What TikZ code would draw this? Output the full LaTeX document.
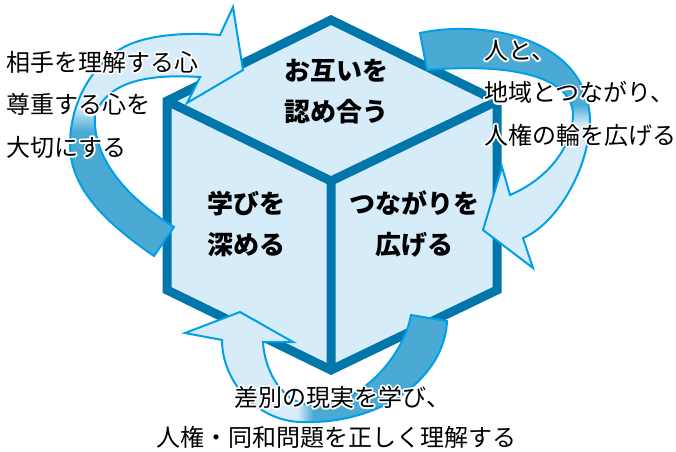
\documentclass[tikz,border=0pt]{standalone}
\usepackage{fontspec}
\newfontfamily\jpfont{Noto Sans CJK JP}
\definecolor{cubeline}{RGB}{0,118,170}
\definecolor{cubeface}{RGB}{214,236,249}
\definecolor{arrline}{RGB}{0,160,233}
\definecolor{arrdark}{RGB}{74,170,212}
\definecolor{arrlight}{RGB}{214,236,249}
\pgfdeclareverticalshading{leftloopshade}{100bp}{color(0bp)=(arrdark); color(50bp)=(arrdark); color(55bp)=(arrlight); color(100bp)=(arrlight)}
\pgfdeclareverticalshading{rightloopshade}{100bp}{color(0bp)=(arrlight); color(54bp)=(arrlight); color(58bp)=(arrdark); color(100bp)=(arrdark)}
\pgfdeclarehorizontalshading{bottomloopshade}{100bp}{color(0bp)=(arrlight); color(46.5bp)=(arrlight); color(49.5bp)=(arrdark); color(100bp)=(arrdark)}
\tikzset{%
  cubeedge/.style = {draw=cubeline, line width=9pt, line join=miter},%
  cubeside/.style = {cubeedge, fill=cubeface},%
  loop/.style     = {draw=arrline, line width=2pt, line join=miter, shade},%
  facetext/.style = {font=\jpfont\bfseries\fontsize{26}{41}\selectfont, align=center},%
  sidetext/.style = {font=\jpfont\fontsize{24}{42.5}\selectfont, align=left},%
  foottext/.style = {font=\jpfont\fontsize{24}{40}\selectfont, align=center}%
}
% white rim (stroked outline) behind text that lies on an arrow
\newcommand\halolabel[4][]{%
  \node[#1, text=white] at (#3)
    {\special{pdf:literal direct 1 j 1 J 3.6 w 1 Tr}#4\special{pdf:literal direct 0 Tr}};
  \node[#1] (#2) at (#3) {#4};}

\begin{document}
\begin{tikzpicture}[x=1pt,y=-1pt,every node/.style={inner sep=0pt,outer sep=0pt}]
\useasboundingbox[fill=white] (0,0) rectangle (676,451);
% cube
\coordinate (top) at (331,20);
\coordinate (ur) at (497,101);
\coordinate (lr) at (497,290);
\coordinate (bot) at (331,370);
\coordinate (ll) at (167,290);
\coordinate (ul) at (167,101);
\coordinate (mid) at (331,181);
\draw[cubeside] (top) -- (ur) -- (lr) -- (bot) -- (ll) -- (ul) -- cycle;
\draw[cubeedge] (ul) -- (mid) -- (ur) (mid) -- (bot);
% left loop
\path[loop, shading=leftloopshade]
  (154,256) .. controls (109,225) and (70,190) .. (70,145)
  .. controls (70,95) and (100,55) .. (133,43)
  .. controls (160,33) and (195,33) .. (220,35)
  -- (233,7) -- (243,70) -- (187,103) -- (200,77)
  .. controls (150,74) and (108,80) .. (95,115)
  .. controls (92,160) and (130,200) .. (174,227) -- cycle;
% right loop
\path[loop, shading=rightloopshade]
  (420,33) .. controls (480,20) and (585,35) .. (590,118)
  .. controls (590,170) and (555,225) .. (523,238)
  -- (533,268) -- (483,230) -- (502,167) -- (510,195)
  .. controls (545,180) and (572,150) .. (573,115)
  .. controls (573,80) and (520,62) .. (427,70) -- cycle;
% bottom loop
\path[loop, shading=bottomloopshade]
  (447,321) .. controls (445,375) and (385,425) .. (300,422)
  .. controls (255,420) and (222,380) .. (222,340)
  -- (185,333) -- (240,312) -- (293,342) -- (263,342)
  .. controls (265,375) and (285,403) .. (310,405)
  .. controls (360,408) and (404,355) .. (411,315) -- cycle;
% labels
\node[facetext] (respect) at (336,92) {お互いを\\認め合う};
\node[facetext] (learn) at (246,223.5) {学びを\\深める};
\node[facetext] (connect) at (414,223.5) {つながりを\\広げる};
\halolabel[sidetext, anchor=west]{heart}{6,104.5}{相手を理解する心\\尊重する心を\\大切にする}
\halolabel[sidetext, anchor=west]{ring}{484,93}{人と、\\地域とつながり、\\人権の輪を広げる}
\halolabel[foottext]{reality}{336,417}{\hspace*{12pt}差別の現実を学び、\\人権・同和問題を正しく理解する}
\end{tikzpicture}
\end{document}
